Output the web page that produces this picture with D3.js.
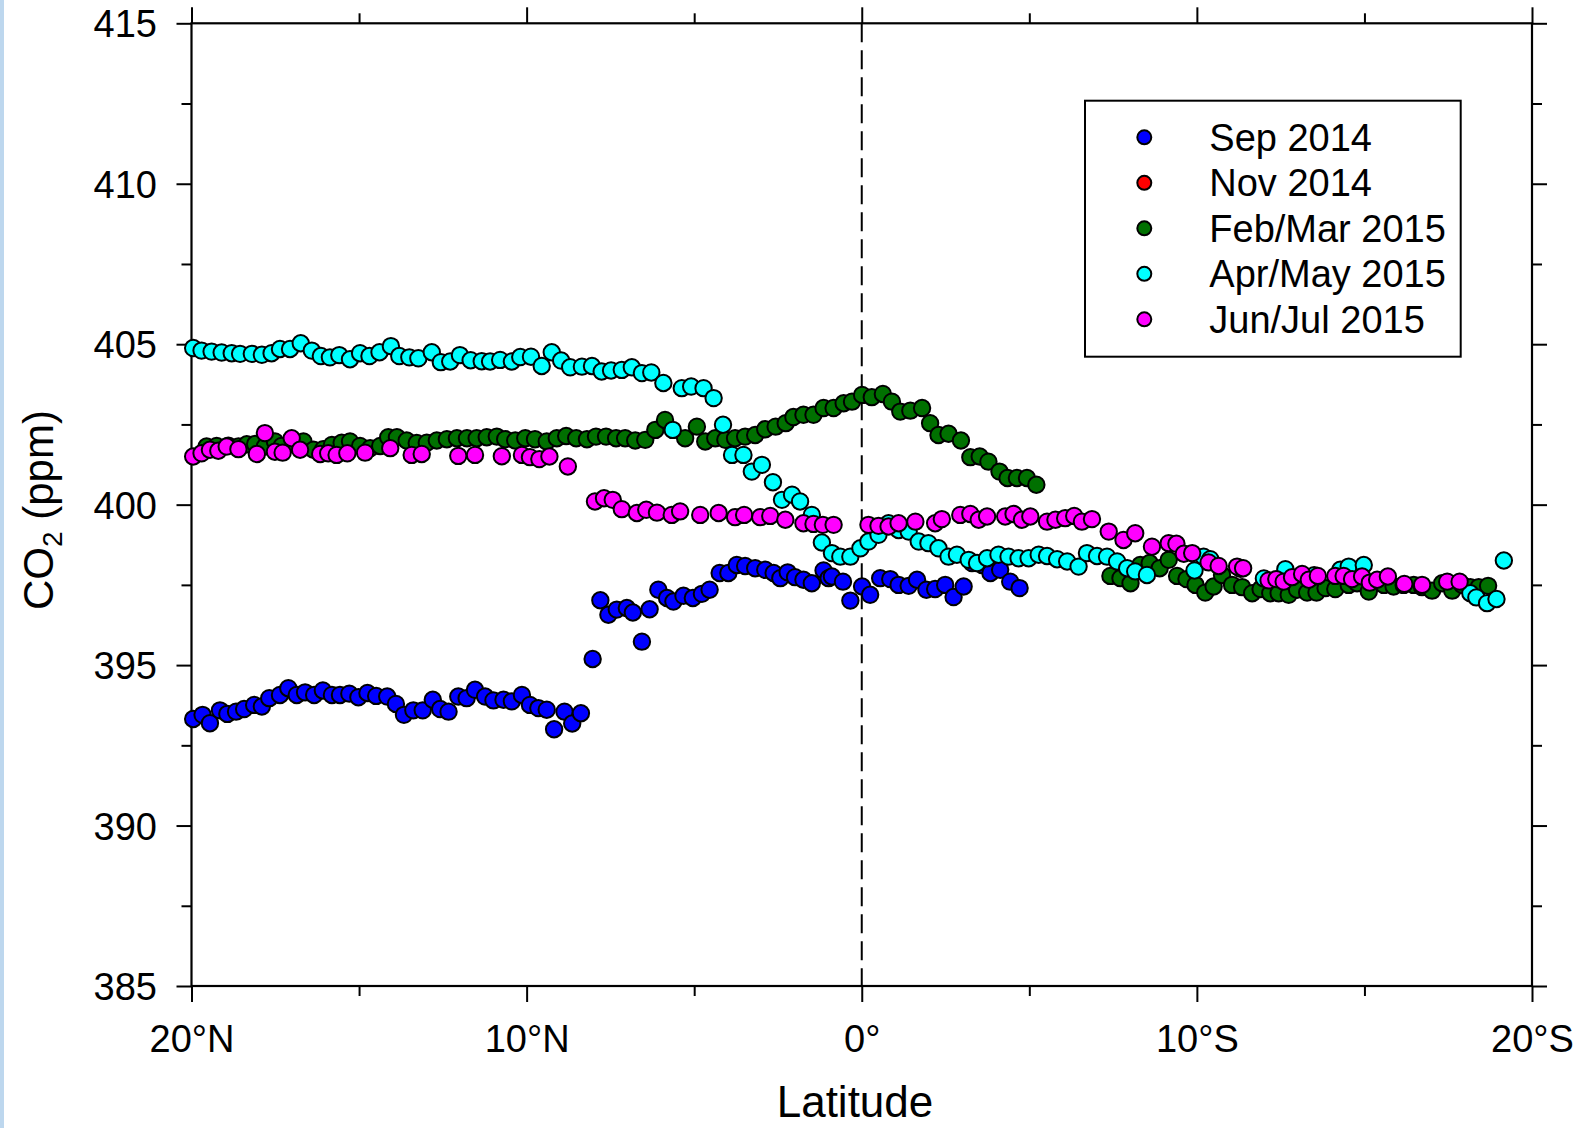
<!DOCTYPE html>
<html>
<head>
<meta charset="utf-8">
<script src="https://cdn.jsdelivr.net/npm/d3@7"></script>
<style>
  html, body { margin: 0; padding: 0; background: #fff; }
  svg { display: block; }
  text { font-family: "Liberation Sans", Arial, sans-serif; fill: #000; }
</style>
</head>
<body>
<svg id="chart" width="1579" height="1128"></svg>
<script>
// ---------- data: [latitude (°N positive, °S negative), CO2 ppm] ----------
const sep2014 = [[19.95,393.32],[19.67,393.45],[19.45,393.19],[19.15,393.59],[18.93,393.48],[18.67,393.55],[18.43,393.63],[18.13,393.76],[17.90,393.71],[17.68,393.97],[17.36,394.07],[17.11,394.28],[16.86,394.07],[16.61,394.15],[16.34,394.07],[16.08,394.21],[15.81,394.07],[15.57,394.07],[15.29,394.11],[15.02,394.00],[14.75,394.13],[14.49,394.04],[14.16,394.02],[13.90,393.79],[13.66,393.45],[13.38,393.59],[13.10,393.59],[12.80,393.92],[12.58,393.63],[12.33,393.55],[12.04,394.02],[11.79,393.97],[11.54,394.23],[11.24,394.02],[10.99,393.90],[10.69,393.92],[10.44,393.87],[10.14,394.07],[9.90,393.76],[9.65,393.66],[9.40,393.61],[9.18,393.00],[8.87,393.55],[8.64,393.18],[8.38,393.50],[8.03,395.19],[7.80,397.02],[7.56,396.57],[7.31,396.73],[7.01,396.78],[6.83,396.64],[6.56,395.73],[6.33,396.74],[6.07,397.35],[5.81,397.09],[5.62,396.98],[5.32,397.16],[5.04,397.09],[4.77,397.22],[4.54,397.35],[4.24,397.87],[3.98,397.87],[3.73,398.12],[3.48,398.09],[3.18,398.02],[2.88,397.97],[2.63,397.87],[2.43,397.71],[2.21,397.89],[1.99,397.74],[1.74,397.66],[1.49,397.55],[1.14,397.95],[0.99,397.71],[0.89,397.76],[0.56,397.60],[0.34,397.01],[-0.01,397.45],[-0.25,397.19],[-0.55,397.71],[-0.85,397.68],[-1.10,397.50],[-1.40,397.47],[-1.65,397.66],[-1.93,397.35],[-2.19,397.37],[-2.49,397.50],[-2.74,397.12],[-3.04,397.45],[-3.29,398.18],[-3.59,398.12],[-3.84,397.87],[-4.13,397.97],[-4.43,397.60],[-4.71,397.40]];

const nov2014 = [];

const febMar2015 = [[19.55,401.81],[19.25,401.83],[18.90,401.84],[18.60,401.81],[18.35,401.88],[18.10,401.89],[17.81,401.81],[17.51,401.97],[17.31,401.83],[16.96,401.89],[16.66,401.97],[16.36,401.71],[16.07,401.73],[15.81,401.86],[15.52,401.93],[15.27,401.97],[14.97,401.83],[14.67,401.76],[14.37,401.83],[14.13,402.10],[13.87,402.10],[13.58,402.00],[13.28,401.92],[12.98,401.93],[12.68,402.00],[12.38,402.04],[12.08,402.07],[11.78,402.07],[11.49,402.07],[11.19,402.10],[10.89,402.12],[10.64,402.04],[10.34,402.00],[10.04,402.07],[9.75,402.04],[9.40,401.97],[9.10,402.07],[8.82,402.14],[8.52,402.07],[8.20,402.04],[7.93,402.12],[7.63,402.12],[7.33,402.07],[7.06,402.07],[6.76,402.00],[6.46,402.02],[6.16,402.33],[5.87,402.64],[5.27,402.07],[4.92,402.43],[4.67,401.97],[4.37,402.07],[4.07,402.02],[3.78,402.07],[3.48,402.12],[3.18,402.17],[2.88,402.35],[2.57,402.43],[2.27,402.54],[2.04,402.73],[1.74,402.80],[1.44,402.80],[1.14,403.01],[0.84,403.01],[0.54,403.16],[0.29,403.21],[-0.01,403.42],[-0.30,403.35],[-0.63,403.45],[-0.90,403.21],[-1.15,402.90],[-1.45,402.93],[-1.80,403.01],[-2.04,402.54],[-2.29,402.17],[-2.59,402.21],[-2.96,402.00],[-3.24,401.48],[-3.52,401.50],[-3.78,401.34],[-4.11,401.03],[-4.35,400.83],[-4.63,400.83],[-4.93,400.83],[-5.21,400.62],
[-7.42,397.78],[-7.72,397.71],[-8.02,397.55],[-8.31,398.12],[-8.59,398.18],[-8.89,398.02],[-9.16,398.28],[-9.41,397.78],[-9.69,397.68],[-9.96,397.50],[-10.25,397.26],[-10.50,397.45],[-10.75,397.81],[-11.05,397.50],[-11.35,397.43],[-11.65,397.24],[-11.90,397.37],[-12.19,397.24],[-12.44,397.24],[-12.74,397.19],[-12.99,397.35],[-13.29,397.26],[-13.57,397.26],[-13.84,397.40],[-14.13,397.37],[-14.53,397.50],[-14.78,397.55],[-15.13,397.29],[-15.58,397.50],[-15.87,397.45],[-16.17,397.50],[-16.47,397.50],[-16.72,397.43],[-17.02,397.32],[-17.32,397.55],[-17.62,397.32],[-17.92,397.50],[-18.16,397.43],[-18.41,397.43],[-18.69,397.47]];

const aprMay2015 = [[19.95,404.88],[19.70,404.80],[19.40,404.77],[19.10,404.74],[18.80,404.72],[18.55,404.70],[18.20,404.70],[17.90,404.67],[17.61,404.72],[17.36,404.85],[17.06,404.85],[16.74,405.03],[16.41,404.80],[16.14,404.63],[15.87,404.59],[15.59,404.66],[15.27,404.53],[14.97,404.72],[14.69,404.63],[14.39,404.75],[14.05,404.94],[13.80,404.63],[13.50,404.59],[13.23,404.56],[12.83,404.75],[12.56,404.44],[12.28,404.46],[11.99,404.66],[11.67,404.50],[11.34,404.47],[11.09,404.46],[10.79,404.51],[10.44,404.46],[10.19,404.60],[9.87,404.61],[9.55,404.32],[9.25,404.75],[8.97,404.49],[8.70,404.28],[8.35,404.30],[8.05,404.32],[7.76,404.15],[7.48,404.18],[7.16,404.20],[6.86,404.28],[6.56,404.10],[6.28,404.12],[5.92,403.79],[5.37,403.63],[5.09,403.68],[4.72,403.63],[4.42,403.32],[5.64,402.33],[4.14,402.49],[3.87,401.55],[3.53,401.55],[3.28,401.03],[2.98,401.24],[2.65,400.70],[2.38,400.15],[2.08,400.31],[1.84,400.10],[1.49,399.68],[1.19,398.82],[0.89,398.49],[0.64,398.38],[0.34,398.38],[0.04,398.64],[-0.20,398.85],[-0.50,399.06],[-0.80,399.42],[-1.10,399.21],[-1.40,399.16],[-1.70,398.85],[-1.99,398.80],[-2.29,398.64],[-2.59,398.38],[-2.84,398.44],[-3.19,398.28],[-3.44,398.18],[-3.74,398.33],[-4.08,398.44],[-4.38,398.38],[-4.68,398.33],[-4.98,398.33],[-5.28,398.44],[-5.53,398.40],[-5.83,398.30],[-6.13,398.23],[-6.47,398.07],[-6.72,398.49],[-7.02,398.40],[-7.32,398.38],[-7.62,398.23],[-7.92,398.02],[-8.16,397.92],[-8.51,397.81],[-9.93,397.95],[-10.20,398.38],[-10.40,398.30],[-11.30,398.00],[-12.00,397.70],[-12.64,397.99],[-13.50,397.80],[-14.28,397.97],[-14.53,398.07],[-14.98,398.12],[-18.16,397.24],[-18.34,397.11],[-18.66,396.93],[-18.94,397.06],[-19.16,398.26]];

const junJul2015 = [[19.95,401.50],[19.70,401.60],[19.45,401.71],[19.20,401.68],[18.95,401.81],[18.60,401.73],[18.05,401.58],[17.81,402.23],[17.51,401.65],[17.28,401.62],[17.01,402.07],[16.76,401.71],[16.16,401.58],[15.92,401.60],[15.67,401.55],[15.35,401.60],[14.82,401.62],[14.07,401.76],[13.43,401.55],[13.13,401.58],[12.04,401.52],[11.54,401.55],[10.74,401.51],[10.14,401.55],[9.90,401.48],[9.62,401.42],[9.32,401.50],[8.77,401.19],[7.96,400.10],[7.69,400.20],[7.43,400.15],[7.16,399.86],[6.71,399.74],[6.43,399.84],[6.11,399.75],[5.67,399.68],[5.42,399.79],[4.82,399.68],[4.27,399.74],[3.78,399.61],[3.51,399.68],[3.03,399.61],[2.73,399.65],[2.28,399.53],[1.74,399.42],[1.44,399.40],[1.16,399.37],[0.84,399.37],[-0.20,399.37],[-0.50,399.34],[-0.80,399.32],[-1.10,399.42],[-1.60,399.47],[-2.19,399.42],[-2.39,399.55],[-2.94,399.68],[-3.24,399.71],[-3.49,399.53],[-3.74,399.63],[-4.28,399.63],[-4.53,399.71],[-4.78,399.53],[-5.03,399.63],[-5.53,399.47],[-5.78,399.53],[-6.07,399.58],[-6.34,399.65],[-6.57,399.47],[-6.87,399.55],[-7.37,399.16],[-7.81,398.90],[-8.16,399.11],[-8.66,398.69],[-9.16,398.80],[-9.39,398.78],[-9.61,398.47],[-9.86,398.49],[-10.35,398.20],[-10.65,398.09],[-11.20,398.07],[-11.38,398.02],[-12.14,397.64],[-12.37,397.68],[-12.59,397.60],[-12.84,397.74],[-13.14,397.84],[-13.34,397.66],[-13.61,397.78],[-14.13,397.78],[-14.38,397.78],[-14.63,397.68],[-14.93,397.76],[-15.16,397.57],[-15.38,397.66],[-15.70,397.76],[-16.19,397.53],[-16.72,397.50],[-17.47,397.60],[-17.84,397.60]];

const seriesNames = ["Sep 2014", "Nov 2014", "Feb/Mar 2015", "Apr/May 2015", "Jun/Jul 2015"];
const seriesColors = ["#0000ff", "#ff0000", "#007000", "#00ffff", "#ff00ff"];
const seriesData = [sep2014, nov2014, febMar2015, aprMay2015, junJul2015];

const xMajorTicks = [20, 10, 0, -10, -20];
const xMinorTicks = [15, 5, -5, -15];
const yMajorTicks = [385, 390, 395, 400, 405, 410, 415];
const yMinorTicks = [387.5, 392.5, 397.5, 402.5, 407.5, 412.5];
const xTitle = "Latitude";

// ---------- layout ----------
const svg = d3.select("#chart");
const L = 191.5, R = 1532, T = 23.3, B = 986;
const x = d3.scaleLinear().domain([20, -20]).range([L, R]);
const y = d3.scaleLinear().domain([385, 415]).range([B, T]);
const latFmt = d => d === 0 ? "0°" : (d > 0 ? d + "°N" : (-d) + "°S");

// light blue strip at left edge
svg.append("rect").attr("x", 0).attr("y", 0).attr("width", 4).attr("height", 1128).attr("fill", "#bdd7ee");

function styleAxis(g) {
  g.select(".domain").remove();
  g.selectAll(".tick line").attr("stroke", "#000").attr("stroke-width", 2);
  g.selectAll("text").style("font-size", "38px").style("font-family", "'Liberation Sans', Arial, sans-serif").attr("fill", "#000");
}

// bottom axis
svg.append("g").attr("transform", `translate(0,${B})`)
  .call(d3.axisBottom(x).tickValues(xMajorTicks).tickSize(16).tickFormat(latFmt))
  .call(styleAxis)
  .call(g => g.selectAll("text").attr("y", 39).attr("dy", "0.71em"));
svg.append("g").attr("transform", `translate(0,${B})`)
  .call(d3.axisBottom(x).tickValues(xMinorTicks).tickSize(10).tickFormat(""))
  .call(styleAxis);
// top axis
svg.append("g").attr("transform", `translate(0,${T})`)
  .call(d3.axisTop(x).tickValues(xMajorTicks).tickSize(16).tickFormat(""))
  .call(styleAxis);
svg.append("g").attr("transform", `translate(0,${T})`)
  .call(d3.axisTop(x).tickValues(xMinorTicks).tickSize(10).tickFormat(""))
  .call(styleAxis);
// left axis
svg.append("g").attr("transform", `translate(${L},0)`)
  .call(d3.axisLeft(y).tickValues(yMajorTicks).tickSize(15).tickFormat(d3.format("d")))
  .call(styleAxis)
  .call(g => g.selectAll("text").attr("x", -34.5).attr("dy", "0.36em"));
svg.append("g").attr("transform", `translate(${L},0)`)
  .call(d3.axisLeft(y).tickValues(yMinorTicks).tickSize(10).tickFormat(""))
  .call(styleAxis);
// right axis
svg.append("g").attr("transform", `translate(${R},0)`)
  .call(d3.axisRight(y).tickValues(yMajorTicks).tickSize(15).tickFormat(""))
  .call(styleAxis);
svg.append("g").attr("transform", `translate(${R},0)`)
  .call(d3.axisRight(y).tickValues(yMinorTicks).tickSize(10).tickFormat(""))
  .call(styleAxis);

// frame
svg.append("rect").attr("x", L).attr("y", T).attr("width", R - L).attr("height", B - T)
  .attr("fill", "none").attr("stroke", "#000").attr("stroke-width", 2.2);

// equator dashed line
svg.append("line").attr("x1", x(0)).attr("x2", x(0)).attr("y1", T).attr("y2", B)
  .attr("stroke", "#000").attr("stroke-width", 2).attr("stroke-dasharray", "19,8");

// points
seriesData.forEach((data, i) => {
  svg.append("g").selectAll("circle").data(data).join("circle")
    .attr("cx", d => x(d[0])).attr("cy", d => y(d[1])).attr("r", 8.2)
    .attr("fill", seriesColors[i]).attr("stroke", "#000").attr("stroke-width", 2);
});

// axis titles
svg.append("text").attr("x", 855).attr("y", 1117).attr("text-anchor", "middle")
  .style("font-size", "44px").text(xTitle);
const yt = svg.append("text").attr("transform", "translate(53,510) rotate(-90)")
  .attr("text-anchor", "middle").style("font-size", "42px");
yt.append("tspan").text("CO");
yt.append("tspan").attr("dy", 9).style("font-size", "28px").text("2");
yt.append("tspan").attr("dy", -9).text(" (ppm)");

// legend
const leg = svg.append("g");
leg.append("rect").attr("x", 1085).attr("y", 100.7).attr("width", 375.7).attr("height", 256)
  .attr("fill", "#fff").attr("stroke", "#000").attr("stroke-width", 2);
seriesNames.forEach((name, i) => {
  const cy = 137.3 + i * 45.5;
  leg.append("circle").attr("cx", 1144.3).attr("cy", cy).attr("r", 7)
    .attr("fill", seriesColors[i]).attr("stroke", "#000").attr("stroke-width", 2);
  leg.append("text").attr("x", 1209.3).attr("y", cy).attr("dy", "0.36em")
    .style("font-size", "38px").text(name);
});
</script>
</body>
</html>
